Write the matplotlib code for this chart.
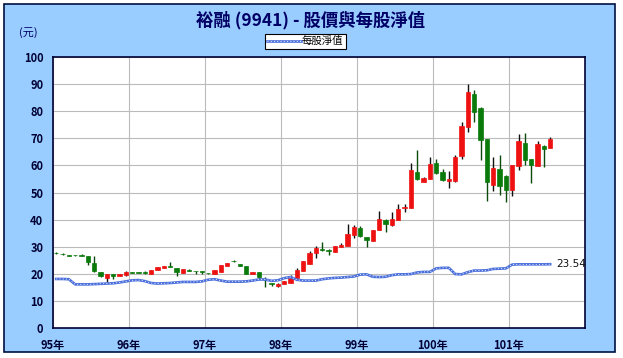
import matplotlib
matplotlib.use("Agg")
import matplotlib.pyplot as plt
from matplotlib.patches import Rectangle

plt.rcParams['font.family'] = ['Noto Sans CJK TC', 'DejaVu Sans']

# monthly candles, 95/01 .. 101/07
opens = [27.8, 27.4, 26.9, 26.9, 26.9, 26.6, 23.9, 20.6, 18.6, 19.8, 19.3, 19.5,
         20.5, 20.4, 20.5, 20.0, 21.4, 22.2, 22.6, 22.2, 20.2, 21.4, 21.1, 20.7,
         20.3, 19.9, 20.6, 22.9, 24.7, 23.6, 22.7, 19.8, 20.5, 17.7, 16.6, 15.5,
         16.3, 16.5, 18.4, 21.0, 23.8, 27.5, 29.1, 28.7, 27.9, 29.8, 30.1, 34.4,
         36.9, 33.7, 32.2, 36.3, 39.8, 37.9, 40.0, 44.4, 44.3, 57.5, 53.9, 55.1,
         60.9, 57.5, 54.4, 54.2, 63.3, 74.2, 86.5, 81.0, 69.9, 52.6, 58.8, 56.0,
         51.1, 59.8, 68.4, 62.2, 59.8, 67.0, 66.4]
highs = [28.0, 27.8, 27.0, 27.0, 27.4, 26.6, 26.4, 20.6, 19.9, 19.8, 20.1, 21.1,
         20.6, 20.6, 21.0, 21.4, 22.6, 23.0, 24.2, 22.2, 21.8, 21.6, 21.1, 21.2,
         20.4, 21.4, 23.4, 24.0, 25.0, 23.8, 23.0, 20.5, 20.6, 19.0, 16.6, 16.6,
         17.3, 19.6, 22.0, 24.6, 28.3, 30.4, 31.8, 29.2, 30.2, 31.4, 38.4, 38.1,
         37.5, 33.7, 36.2, 43.3, 40.4, 42.8, 45.9, 45.9, 61.0, 65.8, 55.8, 63.0,
         62.5, 58.5, 58.0, 63.8, 76.0, 89.9, 88.0, 81.5, 69.9, 63.1, 63.7, 56.5,
         60.0, 71.7, 72.1, 62.5, 68.9, 67.5, 70.5]
lows = [27.4, 27.1, 26.7, 26.7, 26.6, 23.4, 20.8, 18.8, 17.0, 18.2, 19.3, 19.2,
        20.3, 20.2, 20.0, 20.0, 21.4, 22.2, 22.4, 19.3, 20.2, 20.9, 19.8, 19.8,
        20.0, 19.9, 20.6, 22.9, 24.2, 22.7, 19.8, 19.8, 18.0, 15.2, 15.6, 15.2,
        16.2, 16.5, 18.4, 21.0, 23.8, 26.0, 28.3, 27.0, 27.9, 29.8, 30.1, 33.2,
        33.5, 30.0, 32.2, 36.3, 35.5, 37.5, 40.0, 42.9, 44.3, 54.5, 53.9, 55.0,
        57.0, 54.2, 51.6, 54.0, 62.5, 72.3, 76.0, 61.9, 46.7, 50.4, 49.1, 46.4,
        48.6, 58.2, 60.0, 53.6, 59.8, 59.4, 66.4]
closes = [27.5, 27.2, 26.7, 26.8, 26.7, 24.2, 21.0, 19.3, 19.9, 19.3, 20.1, 20.8,
          20.4, 20.3, 20.4, 21.4, 22.6, 23.0, 22.5, 20.6, 21.8, 21.0, 20.9, 20.6,
          20.2, 21.4, 23.4, 24.0, 24.6, 22.7, 20.0, 20.5, 18.8, 17.6, 16.1, 16.4,
          17.2, 18.6, 21.5, 24.6, 27.7, 29.6, 28.8, 28.4, 30.2, 30.6, 34.8, 37.4,
          34.0, 32.5, 36.2, 40.3, 38.5, 40.4, 44.0, 44.5, 58.2, 55.1, 55.5, 60.4,
          57.2, 54.6, 55.0, 63.1, 74.4, 87.2, 79.8, 69.3, 53.8, 59.1, 52.3, 51.1,
          60.0, 69.0, 61.9, 60.0, 68.0, 66.2, 69.6]

# 每股淨值, monthly
nav = [18.1, 18.1, 18.0, 16.1, 16.1, 16.1, 16.2, 16.3, 16.4, 16.5, 16.8, 17.2,
       17.6, 17.7, 17.3, 16.6, 16.4, 16.5, 16.6, 16.8, 17.0, 17.0, 17.0, 17.2,
       17.8, 18.0, 17.5, 17.1, 17.1, 17.1, 17.2, 17.5, 17.9, 17.9, 17.4, 17.6,
       18.4, 18.8, 17.8, 17.5, 17.5, 17.5, 18.0, 18.3, 18.5, 18.6, 18.8, 19.0,
       19.7, 19.8, 18.9, 18.8, 18.9, 19.5, 19.8, 19.8, 19.9, 20.5, 20.7, 20.7,
       22.0, 22.2, 22.2, 19.9, 19.8, 20.6, 21.2, 21.2, 21.3, 21.8, 21.9, 22.0,
       23.4, 23.5, 23.5, 23.5, 23.5, 23.5, 23.54]

year_labels = ['95年', '96年', '97年', '98年', '99年', '100年', '101年']

fig = plt.figure(figsize=(6.23, 3.58), dpi=100)
fig.patch.set_facecolor('white')
fig.patches.append(Rectangle((4 / 623, 6 / 358), 611 / 623, 348 / 358,
                             transform=fig.transFigure, facecolor='#99CCFF',
                             edgecolor='#001040', lw=1.2, zorder=-10))

ax = fig.add_axes([53 / 623, 30 / 358, 532 / 623, 271 / 358])
ax.set_zorder(2)
ax.set_facecolor('white')

xs = [i + 0.5 for i in range(len(closes))]
for x, o, h, l, c in zip(xs, opens, highs, lows, closes):
    col = '#EE1111' if c >= o else '#0A7A0A'
    ax.vlines(x, l, h, color='#101010' if c >= o else '#0A4A0A', lw=1, zorder=3)
    bot = min(o, c)
    hgt = max(abs(c - o), 0.25)
    ax.add_patch(Rectangle((x - 0.35, bot), 0.7, hgt, facecolor=col,
                           edgecolor=col, lw=0.5, zorder=4))

l1, = ax.plot(xs, nav, color='#4A6FDC', lw=1.9, zorder=5)
l2, = ax.plot(xs, nav, color='white', lw=0.6, ls=(0, (1.3, 2.6)), zorder=6)
ax.text(xs[-1] + 0.9, nav[-1], '%.2f' % nav[-1], fontsize=7.5,
        va='center', ha='left', color='#111111', family=['DejaVu Sans'])

ax.set_xlim(0, 84)
ax.set_ylim(0, 100)
ax.set_xticks([12 * i for i in range(7)])
ax.set_xticklabels(year_labels, fontsize=8, fontweight='bold', color='#000033')
ax.set_yticks(range(0, 101, 10))
ax.set_yticklabels([str(v) for v in range(0, 101, 10)], fontsize=8,
                   fontweight='bold', color='#000033')
ax.tick_params(axis='y', length=0, pad=7)
ax.tick_params(axis='x', length=0, pad=8)
ax.grid(True, color='#BBBBBB', lw=0.8)
ax.set_axisbelow(True)
for s in ax.spines.values():
    s.set_color('#000033')
    s.set_linewidth(1.2)

fig.text(0.498, 0.944, '裕融 (9941) - 股價與每股淨值', ha='center', va='center',
         fontsize=12.5, fontweight='bold', color='#000066')
fig.text(0.045, 0.908, '(元)', ha='center', va='center', fontsize=8,
         color='#000066')

leg = fig.legend([(l1, l2)], ['每股淨值'], loc='center',
                 bbox_to_anchor=(0.49, 0.885), fontsize=7.5, frameon=True,
                 fancybox=False, edgecolor='black', framealpha=1,
                 handlelength=3.2, handletextpad=0.1, borderpad=0.25,
                 borderaxespad=0)
leg.get_frame().set_linewidth(0.8)

plt.savefig('out.png', dpi=100)
